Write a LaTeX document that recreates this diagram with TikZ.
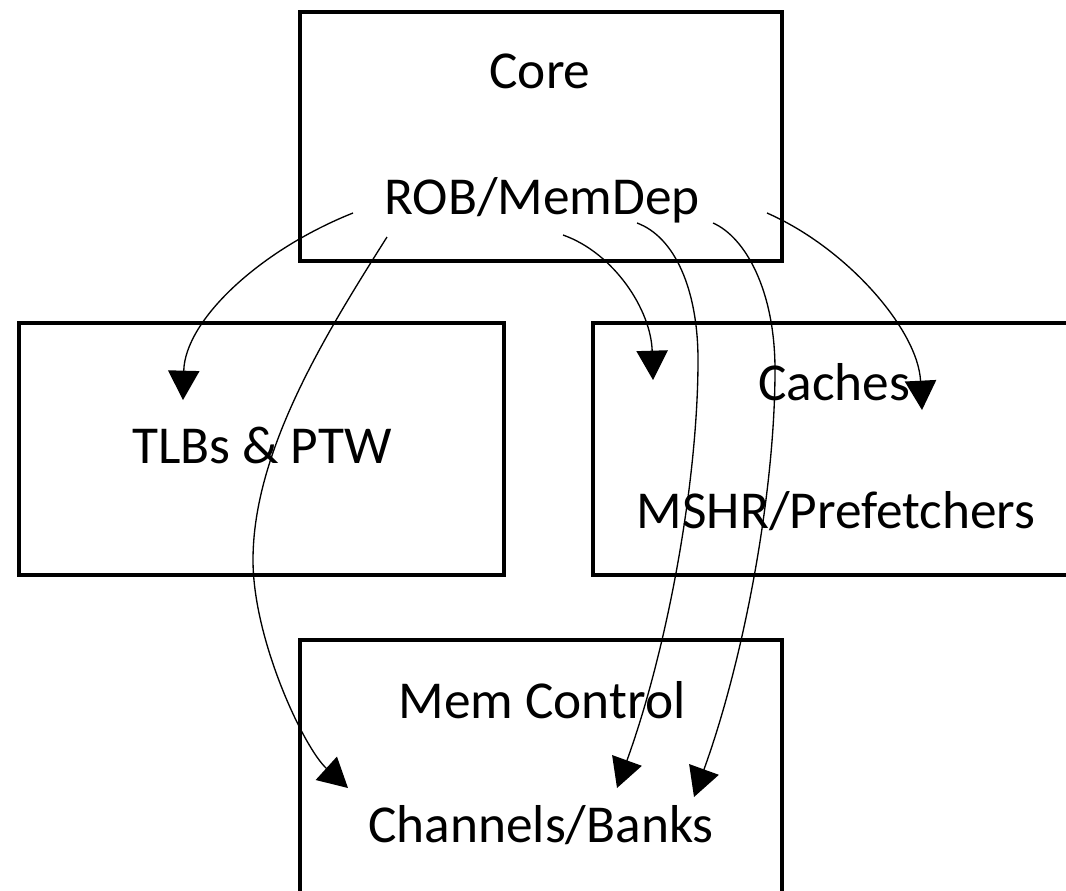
\documentclass[tikz,border=0pt]{standalone}
\usepackage{fontspec}
\setmainfont{Carlito}
\usetikzlibrary{arrows.meta}
\tikzset{
  box/.style={draw=black, line width=2.4pt, inner sep=0pt, outer sep=0pt, fill=none},
  lbl/.style={anchor=base, inner sep=0pt, font=\fontsize{40}{48}\selectfont, text=black},
  conn/.style={draw=black, line width=1pt, -{Triangle[length=22pt,width=23.5pt]}}
}
\begin{document}
\begin{tikzpicture}[x=0.75pt,y=-0.75pt]
\clip (0,0) rectangle (1066,890);
\fill[white] (0,0) rectangle (1066,890);
% boxes
\node[box, minimum width=361.5pt, minimum height=186.75pt] (core) at (541,136.5) {};
\node[box, minimum width=363.75pt, minimum height=189pt] (tlb) at (261.5,449) {};
\node[box, minimum width=365.25pt, minimum height=189pt] (cache) at (836.5,449) {};
\node[box, minimum width=361.5pt, minimum height=195pt] (mem) at (541,770) {};
% labels
\node[lbl] (corel) at (540,88) {Core};
\node[lbl] (rob) at (542,214) {ROB/MemDep};
\node[lbl] (tlbl) at (262,463) {TLBs \& PTW};
\node[lbl] (cachel) at (834,400) {Caches};
\node[lbl] (mshr) at (836,528) {MSHR/Prefetchers};
\node[lbl] (memc) at (542,718) {Mem Control};
\node[lbl] (chan) at (541,842) {Channels/Banks};
% connector end points
\coordinate (s1) at (353,213);
\coordinate (e1) at (183,400);
\coordinate (s2) at (387,237);
\coordinate (m2) at (253,560);
\coordinate (e2) at (348,788);
\coordinate (s3) at (563,235);
\coordinate (e3) at (653,380);
\coordinate (s4) at (637,223);
\coordinate (m4) at (698,360);
\coordinate (e4) at (617,788);
\coordinate (s5) at (713,223);
\coordinate (m5) at (775,370);
\coordinate (e5) at (694,797);
\coordinate (s6) at (767,213);
\coordinate (e6) at (922,410);
% connectors
\draw[conn] (s1) .. controls (260,250) and (185,320) .. (e1);
\draw[conn] (s2) .. controls (327,332) and (253,450) .. (m2)
                 .. controls (253,640) and (304,748) .. (e2);
\draw[conn] (s3) .. controls (614,253) and (651,310) .. (e3);
\draw[conn] (s4) .. controls (675,237) and (698,290) .. (m4)
                 .. controls (698,480) and (668,647) .. (e4);
\draw[conn] (s5) .. controls (745,237) and (775,290) .. (m5)
                 .. controls (775,490) and (745,656) .. (e5);
\draw[conn] (s6) .. controls (847,248) and (918,330) .. (e6);
\end{tikzpicture}
\end{document}
